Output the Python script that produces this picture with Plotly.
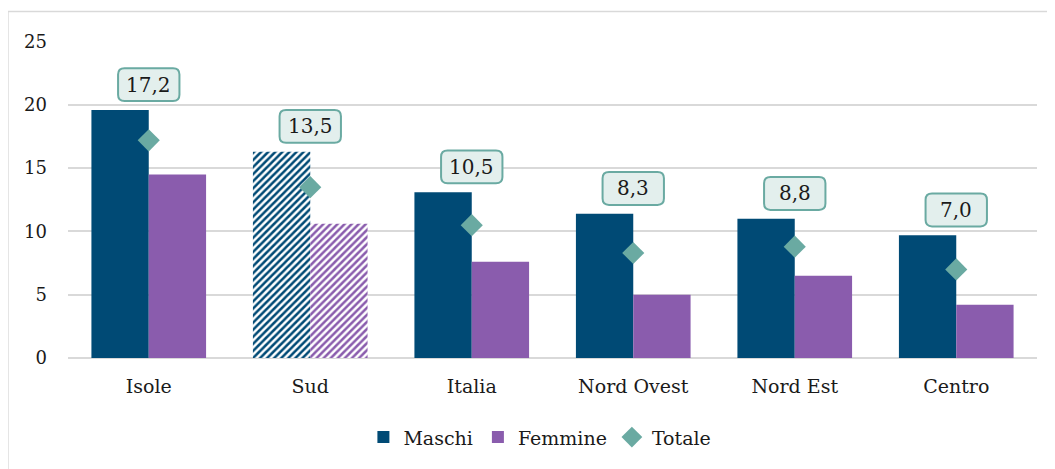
import plotly.graph_objects as go

categories = ["Isole", "Sud", "Italia", "Nord Ovest", "Nord Est", "Centro"]
maschi = [19.6, 16.3, 13.1, 11.4, 11.0, 9.7]
femmine = [14.5, 10.6, 7.6, 5.0, 6.5, 4.2]
totale = [17.2, 13.5, 10.5, 8.3, 8.8, 7.0]
totale_labels = ["17,2", "13,5", "10,5", "8,3", "8,8", "7,0"]
hatched = [False, True, False, False, False, False]

C_M = "#004a75"
C_F = "#8a5cad"
C_T = "#6aaaa2"
FONT = "DejaVu Serif"

xs = list(range(len(categories)))
pat = ["/" if h else "" for h in hatched]

fig = go.Figure()
fig.add_trace(go.Bar(
    x=xs, y=maschi, name="Maschi", marker_color=C_M,
    marker_line_width=0,
    marker_pattern=dict(shape=pat, size=5, solidity=0.5, fgcolor=C_M, bgcolor="white", fillmode="replace"),
))
fig.add_trace(go.Bar(
    x=xs, y=femmine, name="Femmine", marker_color=C_F,
    marker_line_width=0,
    marker_pattern=dict(shape=pat, size=5, solidity=0.5, fgcolor=C_F, bgcolor="white", fillmode="replace"),
))
fig.add_trace(go.Scatter(
    x=xs, y=totale, name="Totale", mode="markers",
    marker=dict(symbol="diamond", size=17, color=C_T),
))

bw, bh = 0.38, 2.6
rx, ry = 0.04, 0.5
for i, (m, lab) in enumerate(zip(maschi, totale_labels)):
    cy = m + 2.0
    x0, x1 = i - bw / 2, i + bw / 2
    y0, y1 = cy - bh / 2, cy + bh / 2
    path = (f"M {x0+rx},{y0} L {x1-rx},{y0} Q {x1},{y0} {x1},{y0+ry} "
            f"L {x1},{y1-ry} Q {x1},{y1} {x1-rx},{y1} L {x0+rx},{y1} "
            f"Q {x0},{y1} {x0},{y1-ry} L {x0},{y0+ry} Q {x0},{y0} {x0+rx},{y0} Z")
    fig.add_shape(type="path", path=path, xref="x", yref="y",
                  fillcolor="#e3efed", line=dict(color=C_T, width=2), layer="above")
    fig.add_annotation(x=i, y=cy, text=lab, showarrow=False, xref="x", yref="y",
                       font=dict(family=FONT, size=20, color="#1a1a1a"))

fig.add_shape(type="line", xref="paper", yref="paper", x0=-0.062, x1=1.03, y0=1.093, y1=1.093,
              line=dict(color="#d9d9d9", width=1.5))
fig.add_shape(type="line", xref="paper", yref="paper", x0=-0.062, x1=-0.062, y0=1.093, y1=-0.40,
              line=dict(color="#d9d9d9", width=1.5))

fig.update_layout(
    width=1047, height=461,
    margin=dict(l=60, r=18, t=33, b=111),
    paper_bgcolor="white", plot_bgcolor="white",
    barmode="group", bargap=0.29, bargroupgap=0,
    font=dict(family=FONT, size=18, color="#1a1a1a"),
    showlegend=True,
    legend=dict(orientation="h", x=0.487, xanchor="center", y=-0.25, yanchor="middle",
                font=dict(family=FONT, size=19), itemwidth=30, tracegroupgap=0),
)
fig.update_xaxes(
    tickmode="array", tickvals=xs, ticktext=categories, range=[-0.5, 5.5],
    showgrid=False, zeroline=False, showline=False, ticks="",
    tickfont=dict(family=FONT, size=19), ticklabelstandoff=15,
)
fig.update_yaxes(
    range=[0, 25.05], tickvals=[0, 5, 10, 15, 20, 25],
    showgrid=True, gridcolor="#d9d9d9", gridwidth=1.5,
    zeroline=True, zerolinecolor="#d9d9d9", zerolinewidth=1.5,
    showline=False, ticks="", tickfont=dict(family=FONT, size=18),
    ticklabelstandoff=20,
)

fig.write_html("out.html")
